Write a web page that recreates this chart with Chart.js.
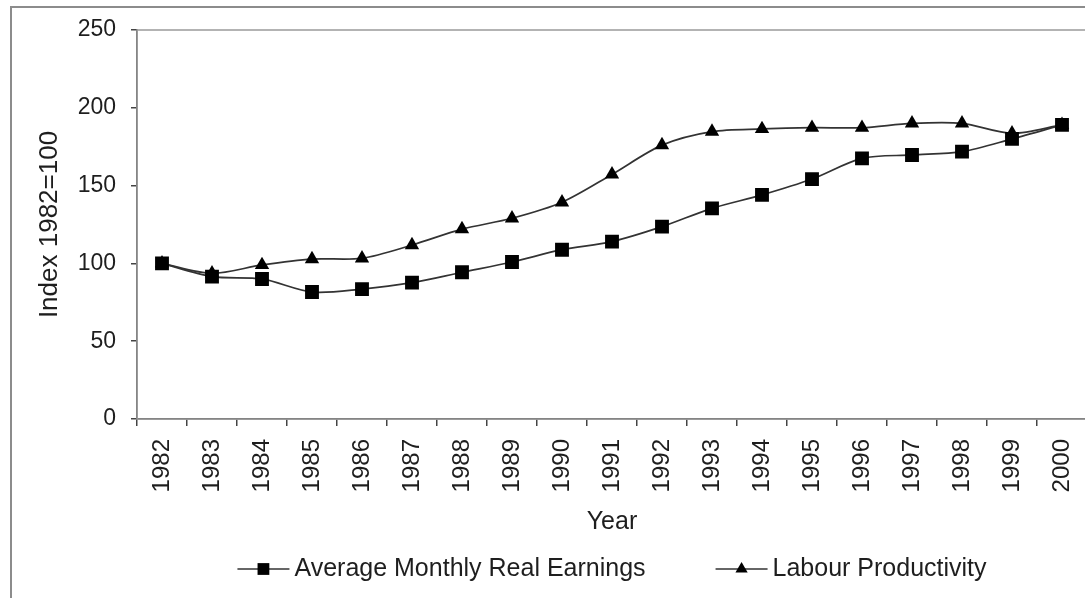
<!DOCTYPE html>
<html lang="en">
<head>
<meta charset="UTF-8">
<title>Average Monthly Real Earnings and Labour Productivity</title>
<script src="https://cdn.jsdelivr.net/npm/chart.js"></script>
<style>
    html, body { margin: 0; padding: 0; background: #fff; overflow: hidden; }
    .frame { position: absolute; left: 10px; top: 6px; width: 1200px; height: 700px; border: 2px solid #8c8c8c; }
    #chart { position: absolute; left: 0; top: 0; }
</style>
</head>
<body>
<div class="frame"></div>
<canvas id="chart" width="1100" height="598"></canvas>
<script>
const years = ['1982', '1983', '1984', '1985', '1986', '1987', '1988', '1989', '1990', '1991',
               '1992', '1993', '1994', '1995', '1996', '1997', '1998', '1999', '2000'];
const earnings = [100, 91.5, 90, 81.6, 83.5, 87.6, 94.3, 100.9, 108.8, 114,
                  123.6, 135.4, 144, 154.2, 167.5, 169.7, 171.8, 180, 189];
const productivity = [100, 93.6, 99, 102.8, 103.3, 111.8, 122, 129, 139.3, 157.2,
                      176, 184.7, 186.4, 187.2, 187.2, 190, 190, 183.6, 189];
const yTicks = [0, 50, 100, 150, 200, 250];

const FONT = '"Liberation Sans", Arial, sans-serif';
const INK = '#1e1e1e';
const AXIS = '#444';

// grey border round the plot area, like the spreadsheet chart
const plotBorder = {
    id: 'plotBorder',
    beforeDatasetsDraw(chart) {
        const a = chart.chartArea;
        const ctx = chart.ctx;
        ctx.save();
        ctx.strokeStyle = '#9a9a9a';
        ctx.lineWidth = 1.5;
        ctx.strokeRect(a.left, a.top, a.right - a.left, a.bottom - a.top);
        ctx.restore();
    }
};

// legend with line - marker - line, as in the original
const lineLegend = {
    id: 'lineLegend',
    afterDraw(chart) {
        const ctx = chart.ctx;
        const a = chart.chartArea;
        ctx.save();
        ctx.font = '25px ' + FONT;
        const lineW = 52, textGap = 5, itemGap = 70;
        const items = chart.data.datasets.map(ds => ({ ds, w: lineW + textGap + ctx.measureText(ds.label).width }));
        const total = items.reduce((s, it) => s + it.w, 0) + itemGap * (items.length - 1);
        let x = (a.left + a.right) / 2 - total / 2;
        const y = 569;
        items.forEach(it => {
            ctx.strokeStyle = it.ds.borderColor;
            ctx.lineWidth = it.ds.borderWidth;
            ctx.beginPath();
            ctx.moveTo(x, y);
            ctx.lineTo(x + lineW, y);
            ctx.stroke();
            ctx.fillStyle = it.ds.pointBackgroundColor;
            ctx.strokeStyle = it.ds.pointBackgroundColor;
            Chart.helpers.drawPoint(ctx, {
                pointStyle: it.ds.pointStyle,
                radius: it.ds.pointRadius * 0.85,
                rotation: 0,
                borderWidth: 0
            }, x + lineW / 2, y);
            ctx.fillStyle = INK;
            ctx.textBaseline = 'middle';
            ctx.textAlign = 'left';
            ctx.fillText(it.ds.label, x + lineW + textGap, y);
            x += it.w + itemGap;
        });
        ctx.restore();
    }
};

new Chart(document.getElementById('chart'), {
    type: 'line',
    data: {
        labels: years,
        datasets: [
            {
                label: 'Average Monthly Real Earnings',
                data: earnings,
                borderColor: '#333',
                borderWidth: 1.7,
                pointStyle: 'rect',
                pointRadius: 9.8,
                pointBackgroundColor: '#000',
                pointBorderWidth: 0,
                tension: 0.3
            },
            {
                label: 'Labour Productivity',
                data: productivity,
                borderColor: '#333',
                borderWidth: 1.7,
                pointStyle: 'triangle',
                pointRadius: 8.3,
                pointBackgroundColor: '#000',
                pointBorderWidth: 0,
                tension: 0.3
            }
        ]
    },
    options: {
        responsive: false,
        animation: false,
        layout: { padding: { left: 0, top: 30, right: 13, bottom: 61 } },
        plugins: {
            legend: { display: false },
            tooltip: { enabled: false }
        },
        scales: {
            x: {
                offset: true,
                grid: { offset: true, drawOnChartArea: false, drawTicks: true, tickLength: 7, color: AXIS, lineWidth: 1.5 },
                border: { display: true, color: AXIS, width: 1.5 },
                ticks: {
                    autoSkip: false, maxRotation: 90, minRotation: 90, padding: 13,
                    color: INK, font: { family: FONT, size: 24 }
                },
                title: {
                    display: true, text: 'Year', color: INK,
                    font: { family: FONT, size: 25 }, padding: { top: 0, bottom: 0 }
                },
                afterFit(scale) {
                    scale.height = 118;
                    scale.paddingLeft = 0;
                    scale.paddingRight = 0;
                }
            },
            y: {
                min: yTicks[0],
                max: yTicks[yTicks.length - 1],
                grid: { drawOnChartArea: false, drawTicks: true, tickLength: 6, color: AXIS, lineWidth: 1.5 },
                border: { display: true, color: AXIS, width: 1.5 },
                ticks: {
                    stepSize: yTicks[1] - yTicks[0], padding: 15,
                    color: INK, font: { family: FONT, size: 23 }
                },
                title: {
                    display: true, text: 'Index 1982=100', color: INK,
                    font: { family: FONT, size: 26 }, padding: { top: 34, bottom: 0 }
                },
                afterFit(scale) { scale.width = 137; }
            }
        }
    },
    plugins: [plotBorder, lineLegend]
});
</script>
</body>
</html>
